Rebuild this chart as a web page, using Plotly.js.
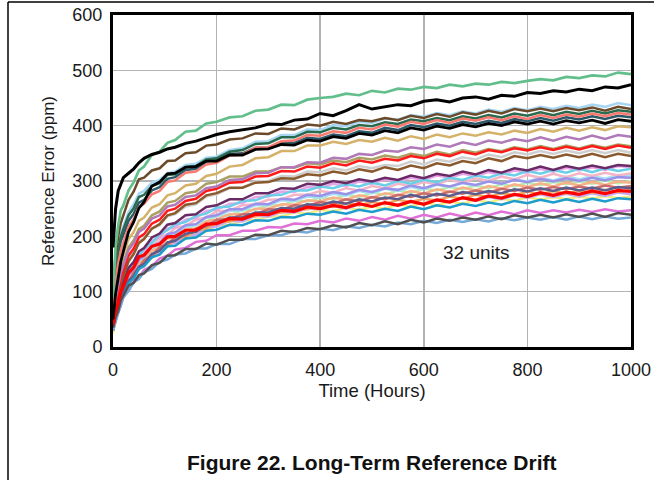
<!DOCTYPE html>
<html>
<head>
<meta charset="utf-8">
<script src="https://cdn.plot.ly/plotly-3.0.1.min.js"></script>
<style>html,body{margin:0;padding:0;background:#fff;}#chart{width:654px;height:480px;}</style>
</head>
<body>
<div id="chart"></div>
<script>
// Time axis (hours)
const hours = [0,5,10,15,20,30,40,50,60,75,90,105,120,140,160,180,200,225,250,275,300,325,350,375,400,425,450,475,500,525,550,575,600,625,650,675,700,725,750,775,800,825,850,875,900,925,950,975,1000];

// Reference error (ppm) of each of the 32 units
const green = [90,182,219,247,256,283,298,319,326,347,353,369,374,389,391,404,407,415,417,427,429,438,437,447,450,452,458,455,463,460,467,465,470,468,474,471,476,474,479,477,481,484,482,488,486,491,489,496,493];
const black1 = [180,250,282,296,306,314,322,333,341,348,352,358,361,368,372,378,384,389,393,396,403,402,410,412,422,418,427,438,430,434,438,436,444,447,443,450,452,448,455,453,460,458,463,461,466,463,470,468,474];
const lightblue = [80,140,180,203,219,244,258,277,282,297,302,314,317,329,331,342,344,356,359,371,372,383,383,393,392,401,399,407,405,413,411,419,416,423,419,426,422,429,425,432,428,434,430,436,432,438,434,441,437];
const darkbrown = [110,166,200,224,238,266,281,303,306,319,323,336,337,350,352,364,366,375,377,386,385,395,393,402,400,407,403,410,408,414,410,418,414,421,416,424,420,427,422,430,426,431,426,432,428,433,427,434,430];
const darkgreen = [100,146,175,199,213,238,251,271,275,291,296,311,312,325,327,339,341,353,356,367,368,379,379,389,388,396,393,401,399,406,403,411,408,414,410,417,413,419,415,422,418,424,419,425,421,427,422,428,425];
const salmon = [70,119,150,174,188,217,231,253,259,276,282,298,301,315,317,330,333,346,348,360,361,372,373,383,382,390,387,396,393,402,398,407,403,410,405,413,409,415,410,417,412,419,414,420,416,422,417,423,420];
const darkteal = [90,141,170,191,203,228,241,261,266,283,289,304,307,320,322,335,338,349,350,360,360,370,369,378,376,384,381,390,387,396,392,401,397,404,400,407,403,409,405,412,408,414,409,415,411,417,412,418,415];
const black2 = [50,96,125,154,173,208,226,251,262,291,298,313,314,325,326,336,336,347,347,357,358,366,365,374,372,380,377,386,383,391,387,396,392,399,395,402,398,404,400,407,403,408,403,409,405,410,404,411,408];
const tan = [60,103,130,154,168,195,208,228,234,252,258,274,278,292,295,309,313,326,329,341,343,354,354,364,364,371,367,374,371,378,373,381,376,384,379,386,382,388,384,391,387,394,389,396,391,397,392,399,397];
const mauve = [50,87,110,134,148,175,188,208,214,232,238,254,257,271,274,287,290,302,303,314,315,325,325,334,333,342,340,349,347,355,353,361,358,366,362,370,365,373,369,376,372,379,373,380,375,382,376,383,380];
const olive = [50,91,115,139,153,180,193,213,219,238,245,261,264,278,281,295,298,308,308,317,317,325,324,332,330,337,334,342,339,346,342,349,345,353,348,356,351,358,354,361,357,363,358,364,359,365,360,366,363];
const red1 = [45,79,100,124,138,165,178,198,204,223,230,246,250,264,268,282,286,297,298,308,309,318,317,326,324,332,328,337,333,340,337,345,341,349,345,353,348,356,352,359,355,361,356,362,357,363,358,364,360];
const lightgray = [45,79,100,121,133,159,171,191,197,214,220,236,240,254,258,272,276,287,288,299,300,309,308,317,316,323,319,327,323,329,327,335,330,339,335,343,339,348,343,352,348,354,349,355,350,356,350,356,351];
const brown2 = [45,76,95,116,128,155,168,188,195,214,222,238,242,257,260,274,278,288,288,297,298,305,304,312,310,317,313,321,317,325,320,328,323,332,328,336,332,341,336,345,341,347,342,348,343,349,343,349,345];
const plum = [40,71,90,109,118,143,154,173,179,198,205,221,224,238,240,253,256,267,267,278,278,287,286,295,293,300,296,303,299,306,302,310,305,313,309,317,312,320,315,323,319,326,320,327,322,328,323,329,327];
const lightpink = [40,68,85,104,113,138,149,168,174,192,198,214,217,230,233,246,248,259,260,271,272,281,280,289,288,295,291,299,295,303,299,306,302,310,306,313,309,316,312,319,315,322,317,324,319,325,320,327,325];
const cyan = [40,66,86,101,117,133,153,163,178,188,204,211,222,226,237,241,252,254,264,265,274,275,283,283,290,287,294,290,297,292,300,295,302,298,306,302,310,306,314,310,318,313,320,315,322,316,323,318,322];
const pink = [35,61,81,96,112,128,148,158,173,181,196,203,215,219,230,234,245,247,256,258,266,267,275,275,282,279,287,283,291,287,295,291,298,294,302,297,305,300,308,303,311,306,313,307,314,309,315,310,314];
const periwinkle = [35,63,80,97,106,130,140,158,164,182,188,204,207,220,222,235,238,249,249,259,258,268,266,275,273,280,276,284,280,287,284,292,287,294,290,297,293,299,295,302,298,304,299,305,300,306,301,307,306];
const lightgreen = [35,58,76,91,107,121,139,148,163,173,189,196,207,211,222,226,237,238,247,248,256,256,264,263,270,267,275,271,279,275,283,279,286,283,289,285,292,287,294,290,297,293,298,294,299,295,301,296,300];
const peach = [35,60,75,92,100,123,133,151,157,174,180,196,198,212,214,227,230,240,240,250,250,258,257,265,263,270,266,274,270,278,274,282,277,285,280,288,283,291,286,294,289,296,290,297,292,298,293,299,297];
const dustyrose = [35,56,73,86,102,116,134,143,157,165,180,186,198,202,214,218,230,231,240,240,249,248,256,255,262,259,267,263,271,267,275,271,278,274,281,277,283,279,286,282,288,284,289,285,290,286,292,288,291];
const slate = [30,56,72,89,98,120,128,145,150,168,174,189,192,205,208,221,224,234,234,243,243,251,250,258,256,263,259,267,263,270,267,275,270,277,273,280,276,282,278,285,281,287,282,288,283,288,283,289,287];
const red2 = [40,65,80,99,110,134,144,163,166,182,186,199,200,211,211,222,223,232,231,240,239,247,245,253,250,256,252,259,254,261,256,263,258,266,262,270,265,273,269,276,272,279,274,280,276,282,277,283,281];
const yellow = [25,51,71,84,100,114,132,140,154,161,175,181,191,195,206,209,220,220,229,229,236,236,243,241,248,245,252,248,254,250,258,254,261,256,263,259,266,261,268,264,271,266,271,267,272,268,273,269,272];
const tealblue = [30,54,68,85,93,115,124,141,146,162,167,182,183,196,198,210,212,221,220,229,228,235,234,241,239,245,241,248,244,250,246,254,249,256,252,259,255,261,257,264,260,266,261,267,262,268,263,269,267];
const lightviolet = [30,55,70,87,96,118,126,143,148,165,171,186,188,201,203,215,218,228,227,237,236,244,243,250,249,255,250,258,254,260,257,264,259,266,262,269,264,271,267,274,270,276,271,277,272,278,273,279,276];
const orchid = [30,48,63,75,90,102,119,126,139,146,160,165,176,179,190,192,202,202,210,210,217,216,223,222,228,225,232,228,235,230,237,232,239,234,241,236,243,238,245,240,247,242,247,243,248,244,249,245,247];
const darkgray = [35,54,65,84,93,111,116,130,133,148,152,165,166,177,177,187,185,194,194,203,202,210,208,215,213,220,216,224,220,227,222,230,225,232,228,234,230,236,231,238,234,239,234,240,235,241,235,242,239];
const steelblue = [30,47,61,75,90,101,117,123,135,141,154,158,167,169,178,178,186,186,195,195,202,202,209,207,214,211,218,215,221,218,225,222,228,224,230,226,231,227,233,229,234,230,235,230,236,231,236,232,234];
const lightcyan = [35,62,78,95,104,127,137,155,161,179,185,201,204,217,220,233,236,246,247,256,256,265,264,272,270,277,274,282,278,286,282,289,285,293,289,296,292,300,295,303,299,306,301,308,303,309,304,311,310];
const orange = [30,53,71,84,100,114,132,140,154,162,177,183,194,199,210,214,226,227,235,236,243,243,250,249,256,253,260,256,262,258,266,262,268,265,272,268,275,271,278,274,281,276,282,277,283,279,284,280,284];

const xTicks = [0,200,400,600,800,1000];
const yTicks = [0,100,200,300,400,500,600];

// drawing order (first drawn at the bottom) with line styles
const units = [
  [lightgray,'#cfcfcf',2.5],[lightgreen,'#b6eeae',2.5],[yellow,'#f3ef7e',2.5],[lightcyan,'#a4dff3',2.5],
  [peach,'#f8b089',2.5],[lightviolet,'#c6a8f0',2.5],[pink,'#f4b6c6',2.5],[lightpink,'#e6a6e6',2.5],
  [periwinkle,'#9a92ea',2.5],[orange,'#f2a45c',2.5],[dustyrose,'#c86c6c',2.5],[slate,'#5c5c8c',2.5],
  [cyan,'#6ccfe8',2.5],[plum,'#6a2a66',2.5],[tealblue,'#1e9ccc',2.5],[orchid,'#e070d8',2.5],
  [steelblue,'#76a9d8',2.5],[darkgray,'#505050',2.5],[brown2,'#8a5a2e',2.5],[olive,'#aaa062',2.5],
  [red1,'#ff1a1a',2.5],[mauve,'#b07ab8',2.5],[tan,'#d4b26a',2.5],[lightblue,'#a6d6f4',2.5],
  [darkteal,'#2c5a6a',2.5],[darkgreen,'#2a6a4e',2.5],[salmon,'#f87a70',2.5],[darkbrown,'#6b4a2a',2.5],
  [green,'#62bf8c',2.7],[red2,'#ff0000',3.2],[black2,'#000000',2.8],[black1,'#000000',3]
];

const traces = units.map(u => ({
  x: hours, y: u[0], type: 'scatter', mode: 'lines',
  line: {color: u[1], width: u[2]}, hoverinfo: 'skip', showlegend: false
}));

const font = 'Liberation Sans, Arial, Helvetica, sans-serif';
const px = p => (p - 113) / 518;
const py = p => (347 - p) / 332;

const layout = {
  width: 654, height: 480,
  margin: {l: 113, r: 23, t: 15, b: 133},
  paper_bgcolor: '#fff', plot_bgcolor: '#fff',
  showlegend: false,
  font: {family: font, color: '#1a1a1a', size: 18},
  xaxis: {
    range: [0, 1000], tickvals: xTicks, ticktext: xTicks.map(String),
    showgrid: true, gridcolor: '#b4b4b4', gridwidth: 1.5, zeroline: false,
    showline: true, mirror: true, linecolor: '#000', linewidth: 3,
    ticks: '', ticklabelstandoff: 4, tickfont: {size: 18, family: font, color: '#1a1a1a'},
    title: {text: 'Time (Hours)', font: {size: 18.5, family: font, color: '#1a1a1a'}, standoff: 0}
  },
  yaxis: {
    range: [0, 600], tickvals: yTicks, ticktext: yTicks.map(String),
    showgrid: true, gridcolor: '#b4b4b4', gridwidth: 1.5, zeroline: false,
    showline: true, mirror: true, linecolor: '#000', linewidth: 3,
    ticks: '', ticklabelstandoff: 4, tickfont: {size: 18, family: font, color: '#1a1a1a'},
    title: {text: 'Reference Error (ppm)', font: {size: 17, family: font, color: '#1a1a1a'}, standoff: 14}
  },
  annotations: [
    {x: 701, y: 170, xref: 'x', yref: 'y', text: '32 units', showarrow: false,
     font: {size: 19, family: font, color: '#1a1a1a'}},
    {x: 0.5, y: py(463), xref: 'paper', yref: 'paper', text: '<b>Figure 22. Long-Term Reference Drift</b>',
     showarrow: false, xanchor: 'center', yanchor: 'middle', font: {size: 21, family: font, color: '#111'}}
  ],
  shapes: [
    {type: 'line', xref: 'paper', yref: 'paper', x0: px(8), x1: px(656), y0: py(2), y1: py(2), line: {color: '#000', width: 1.5}, layer: 'above'},
    {type: 'line', xref: 'paper', yref: 'paper', x0: px(8), x1: px(8), y0: py(2), y1: py(482), line: {color: '#000', width: 1.5}, layer: 'above'}
  ]
};

Plotly.newPlot('chart', traces, layout, {staticPlot: true, displayModeBar: false});
</script>
</body>
</html>
